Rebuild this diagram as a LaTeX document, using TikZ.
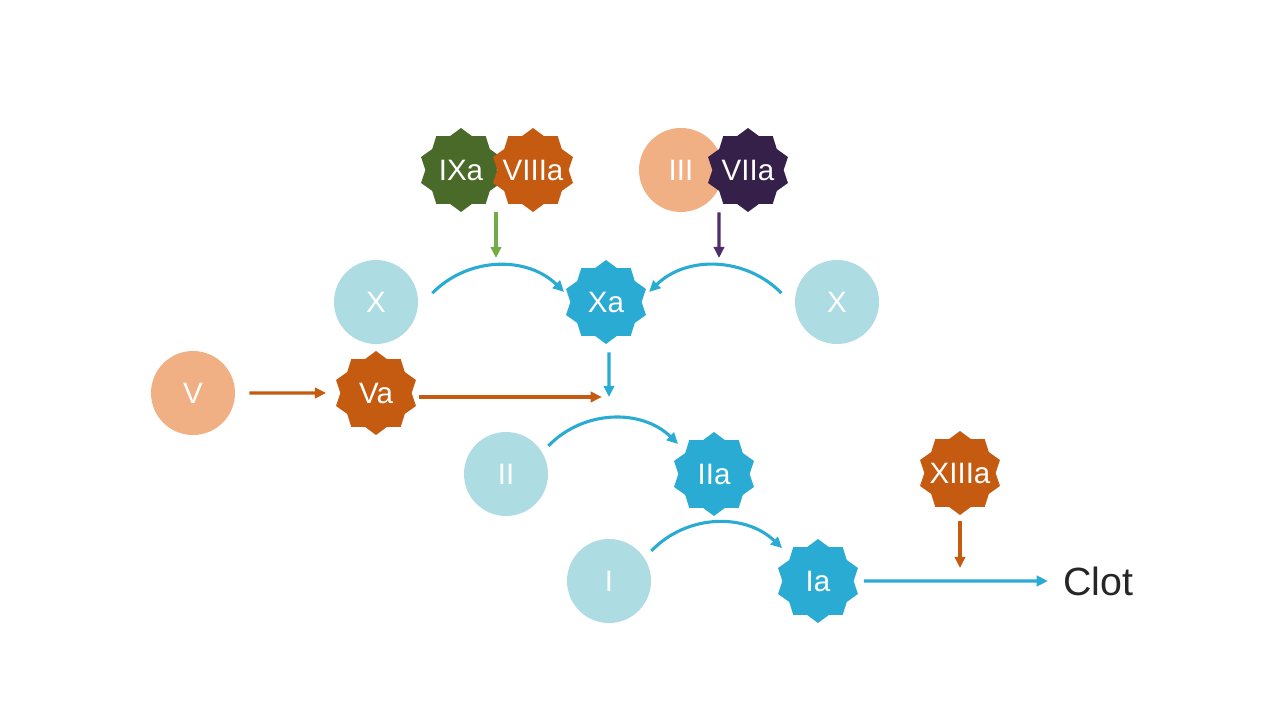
\documentclass[tikz,border=0pt]{standalone}
\usepackage{fontspec}
\setmainfont{Liberation Sans}
\usetikzlibrary{shapes.geometric,arrows.meta}
\definecolor{bleuclair}{HTML}{ADDCE3}
\definecolor{bleu}{HTML}{2AABD3}
\definecolor{orange}{HTML}{C55A11}
\definecolor{peche}{HTML}{F0B083}
\definecolor{vertfonce}{HTML}{4A6A2A}
\definecolor{vert}{HTML}{70AD47}
\definecolor{violetfonce}{HTML}{35204A}
\definecolor{violet}{HTML}{4F2F6B}
\definecolor{gristexte}{HTML}{262626}
\newcommand{\etq}[1]{\makebox[0pt]{#1}}
\begin{document}
\begin{tikzpicture}
		\tikzstyle{rond}=[circle, minimum size=2.1cm, inner sep=0pt, text=white, font=\fontsize{21}{23}\selectfont]
		\tikzstyle{etoile}=[star, star points=10, star point ratio=1.18, minimum size=2.1cm, inner sep=0pt, text=white, font=\fontsize{21}{23}\selectfont]
		\tikzstyle{fleche}=[line width=2.2pt, -{Triangle[length=0.28cm,width=0.26cm]}]
		\useasboundingbox (0,0) rectangle (32,18);
		% facteurs du haut
		\node[etoile, fill=vertfonce] (ixa) at (11.525,13.75) {\etq{IXa}};
		\node[etoile, fill=orange] (viiia) at (13.325,13.75) {\etq{VIIIa}};
		\node[rond, fill=peche] (iii) at (17.025,13.75) {III};
		\node[etoile, fill=violetfonce] (viia) at (18.7,13.75) {\etq{VIIa}};
		% ligne du X
		\node[rond, fill=bleuclair] (xg) at (9.4,10.45) {X};
		\node[etoile, fill=bleu] (xa) at (15.15,10.45) {\etq{Xa}};
		\node[rond, fill=bleuclair] (xd) at (20.925,10.45) {X};
		% ligne du V
		\node[rond, fill=peche] (v) at (4.825,8.175) {V};
		\node[etoile, fill=orange] (va) at (9.4,8.175) {\etq{Va}};
		% thrombine
		\node[rond, fill=bleuclair] (ii) at (12.65,6.15) {II};
		\node[etoile, fill=bleu] (iia) at (17.85,6.15) {\etq{IIa}};
		\node[etoile, fill=orange] (xiiia) at (24,6.175) {\etq{XIIIa}};
		% fibrine
		\node[rond, fill=bleuclair] (i) at (15.225,3.475) {I};
		\node[etoile, fill=bleu] (ia) at (20.45,3.475) {\etq{Ia}};
		\node[text=gristexte, font=\fontsize{28}{30}\selectfont, inner sep=2pt] (clot) at (27.45,3.475) {Clot};
		\coordinate (fv) at (12.4,11.55);
		\coordinate (fp) at (17.975,11.55);
		\coordinate (jonction) at (15.225,8.075);
		\coordinate (fx) at (24,3.8);
		% fleches
		\draw[fleche, vert] ([xshift=0.875cm]ixa.south) -- (fv);
		\draw[fleche, violet] ([xshift=-0.725cm]viia.south) -- (fp);
		\draw[fleche, bleu] ([shift={(0.35,0.22)}]xg.east) to[bend left=45] ([shift={(-0.15,0.25)}]xa.west);
		\draw[fleche, bleu] ([shift={(-0.33,0.22)}]xd.west) to[bend right=45] ([shift={(0.18,0.25)}]xa.east);
		\draw[fleche, bleu] ([xshift=0.075cm, yshift=-0.2cm]xa.south) -- (jonction);
		\draw[fleche, orange, shorten <=0.35cm, shorten >=0.35cm] (v.east) -- (va.west);
		\draw[fleche, orange, shorten <=0.18cm] (va.east |- jonction) -- ([xshift=-0.18cm]jonction);
		\draw[fleche, bleu] ([yshift=0.7cm]ii.east) to[bend left=45] ([yshift=0.75cm]iia.west);
		\draw[fleche, bleu] ([yshift=0.75cm]i.east) to[bend left=45] ([yshift=0.82cm]ia.west);
		\draw[fleche, orange] ([yshift=-0.15cm]xiiia.south) -- (fx);
		\draw[fleche, bleu, shorten <=0.25cm, shorten >=0.3cm] (ia.east) -- (clot.west);
	\end{tikzpicture}
\end{document}
